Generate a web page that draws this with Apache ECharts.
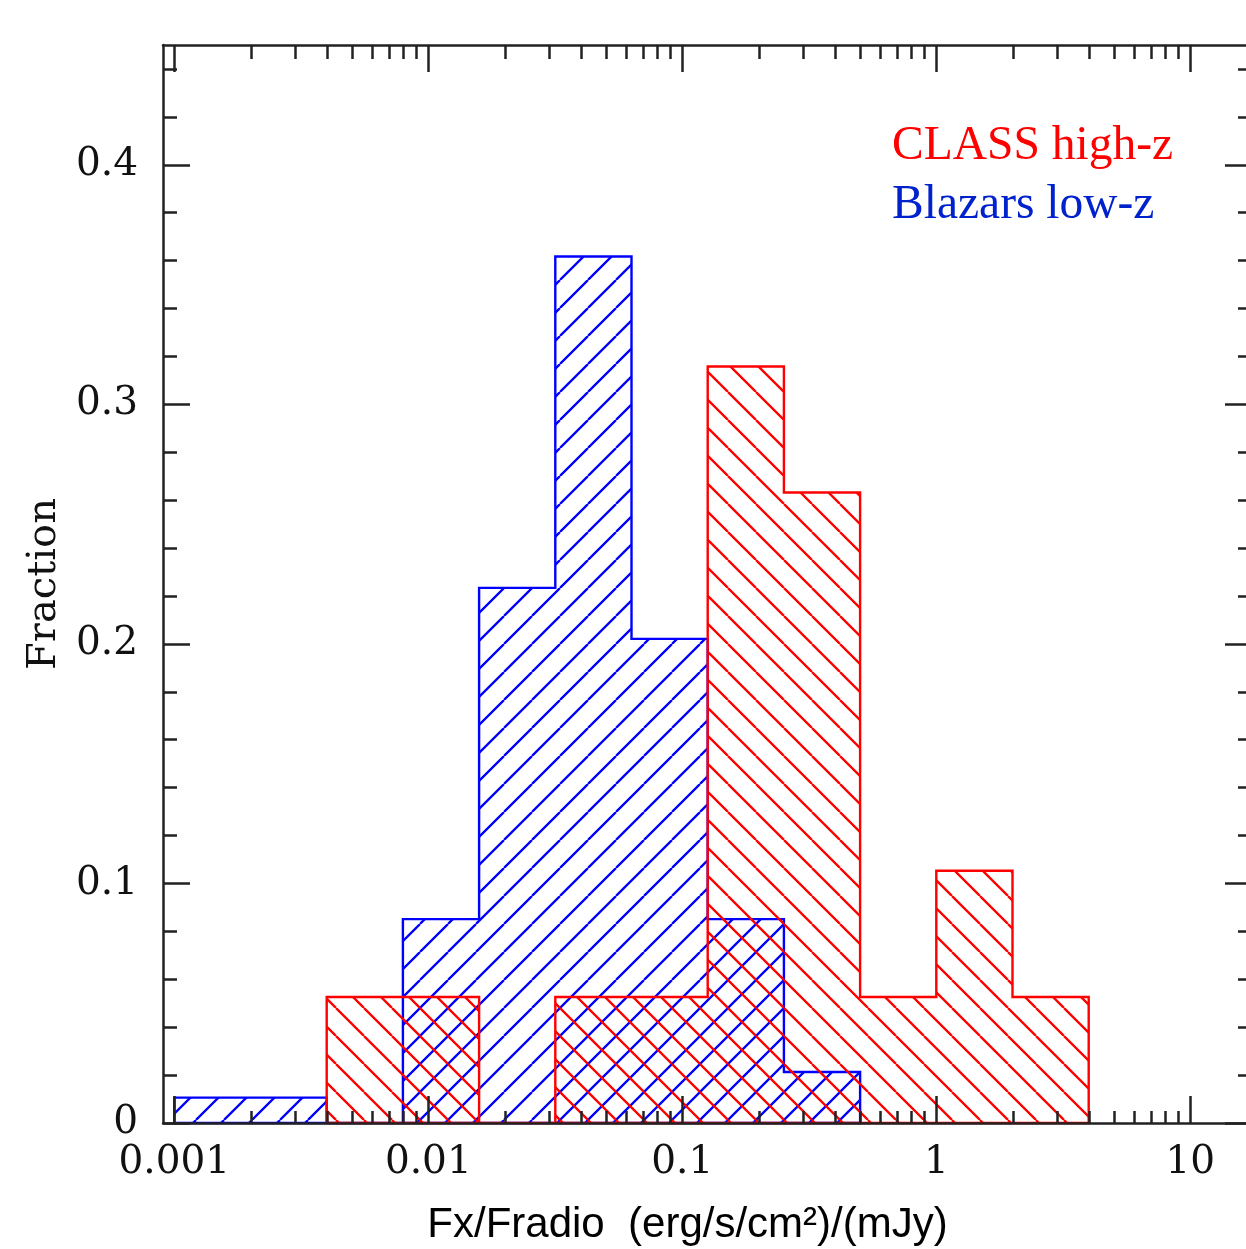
<!DOCTYPE html>
<html>
<head>
<meta charset="utf-8">
<script src="https://cdn.jsdelivr.net/npm/echarts@6/dist/echarts.min.js"></script>
<style>
  html, body { margin: 0; padding: 0; background: #fff; }
  #chart { width: 1246px; height: 1249px; }
</style>
</head>
<body>
<div id="chart"></div>
<script>
// bin edges in log10(Fx/Fradio)
const binEdges = [-3.0, -2.7, -2.4, -2.1, -1.8, -1.5, -1.2, -0.9, -0.6, -0.3, 0.0, 0.3, 0.6]
const blazarFrac = [0.0106, 0.0106, 0, 0.0851, 0.2234, 0.3617, 0.2021, 0.0851, 0.0213, 0, 0, 0]
const classFrac = [0, 0, 0.0526, 0.0526, 0, 0.0526, 0.0526, 0.3158, 0.2632, 0.0526, 0.1053, 0.0526]

const xMajorTicks = [0.001, 0.01, 0.1, 1, 10]
const xTickLabels = ['0.001', '0.01', '0.1', '1', '10']
const xMinorTicks = [0.002, 0.003, 0.004, 0.005, 0.006, 0.007, 0.008, 0.009,
    0.02, 0.03, 0.04, 0.05, 0.06, 0.07, 0.08, 0.09,
    0.2, 0.3, 0.4, 0.5, 0.6, 0.7, 0.8, 0.9,
    2, 3, 4, 5, 6, 7, 8, 9]
const yMajorTicks = [0, 0.1, 0.2, 0.3, 0.4]
const yTickLabels = ['0', '0.1', '0.2', '0.3', '0.4']
const yMinorTicks = [0.02, 0.04, 0.06, 0.08, 0.12, 0.14, 0.16, 0.18, 0.22, 0.24, 0.26, 0.28,
    0.32, 0.34, 0.36, 0.38, 0.42, 0.44]

const xMajorLog = xMajorTicks.map(Math.log10)
const xMinorLog = xMinorTicks.map(Math.log10)

function hatch(color, forward) {
    let s = 28
    let c = document.createElement('canvas')
    c.width = s
    c.height = s
    let ctx = c.getContext('2d')
    ctx.strokeStyle = color
    ctx.lineWidth = 2.3
    ctx.beginPath()
    for (let k = -1; k <= 1; k++) {
        if (forward) {
            ctx.moveTo(k * s, s)
            ctx.lineTo(k * s + s, 0)
        } else {
            ctx.moveTo(k * s, 0)
            ctx.lineTo(k * s + s, s)
        }
    }
    ctx.stroke()
    return c
}

function histSeries(name, vals, color, forward) {
    let pattern = { image: hatch(color, forward), repeat: 'repeat' }
    return {
        type: 'custom',
        name: name,
        data: [[binEdges[0], 0]],
        renderItem: function (params, api) {
            let first = vals.findIndex(v => v > 0)
            let last = vals.length - 1
            while (last > 0 && !(vals[last] > 0)) last--
            let pts = [api.coord([binEdges[first], 0])]
            for (let i = first; i <= last; i++) {
                pts.push(api.coord([binEdges[i], vals[i]]))
                pts.push(api.coord([binEdges[i + 1], vals[i]]))
            }
            pts.push(api.coord([binEdges[last + 1], 0]))
            return {
                type: 'polygon',
                shape: { points: pts },
                style: { fill: pattern, stroke: color, lineWidth: 2.4 }
            }
        }
    }
}

const axisColor = '#222'
const serif = '"DejaVu Serif", serif'

function xAxis(pos, ticks, len, labels, line) {
    return {
        type: 'value',
        position: pos,
        min: -3.0445,
        max: 1.2429,
        z: 10,
        splitLine: { show: false },
        axisLine: { show: line, onZero: false, lineStyle: { color: axisColor, width: 2.5 } },
        axisTick: { show: true, inside: true, length: len, customValues: ticks,
            lineStyle: { color: axisColor, width: 2.5 } },
        axisLabel: labels ? {
            show: true, customValues: xMajorLog, margin: 20,
            color: '#111', fontFamily: serif, fontSize: 39,
            formatter: v => xTickLabels[xMajorLog.findIndex(t => Math.abs(t - v) < 1e-6)]
        } : { show: false }
    }
}

function yAxis(pos, ticks, len, labels, line) {
    return {
        type: 'value',
        position: pos,
        min: 0,
        max: 0.45,
        z: 10,
        splitLine: { show: false },
        axisLine: { show: line, onZero: false, lineStyle: { color: axisColor, width: 2.5 } },
        axisTick: { show: true, inside: true, length: len, customValues: ticks,
            lineStyle: { color: axisColor, width: 2.5 } },
        axisLabel: labels ? {
            show: true, customValues: yMajorTicks, margin: 25,
            color: '#111', fontFamily: serif, fontSize: 39,
            formatter: v => yTickLabels[yMajorTicks.findIndex(t => Math.abs(t - v) < 1e-6)]
        } : { show: false }
    }
}

let myChart = echarts.init(document.getElementById('chart'))

let xAxes = [
    xAxis('bottom', xMajorLog, 27, true, true),
    xAxis('bottom', xMinorLog, 12, false, false),
    xAxis('top', xMajorLog, 27, false, true),
    xAxis('top', xMinorLog, 14, false, false)
]
xAxes[0].name = 'Fx/Fradio  (erg/s/cm²)/(mJy)'
xAxes[0].nameLocation = 'middle'
xAxes[0].nameGap = 81
xAxes[0].nameTextStyle = { fontFamily: 'Liberation Sans', fontSize: 42, color: '#000', padding: [0, 40, 0, 0] }

let yAxes = [
    yAxis('left', yMajorTicks, 27, true, true),
    yAxis('left', yMinorTicks, 14, false, false),
    yAxis('right', yMajorTicks, 27, false, true),
    yAxis('right', yMinorTicks, 14, false, false)
]
yAxes[0].name = 'Fraction'
yAxes[0].nameLocation = 'middle'
yAxes[0].nameGap = 95
yAxes[0].nameTextStyle = { fontFamily: serif, fontSize: 40, color: '#111' }

let option = {
    animation: false,
    grid: { left: 163, top: 45, width: 1089, height: 1078, outerBoundsMode: 'none' },
    legend: {
        orient: 'vertical',
        left: 882,
        top: 118,
        itemWidth: 0,
        itemHeight: 0,
        itemGap: 11,
        icon: 'rect',
        selectedMode: false,
        textStyle: { fontFamily: 'Liberation Serif', fontSize: 47.5, lineHeight: 47 },
        data: [
            { name: 'CLASS high-z', textStyle: { color: '#ff0000' } },
            { name: 'Blazars low-z', textStyle: { color: '#0022cc' } }
        ]
    },
    xAxis: xAxes,
    yAxis: yAxes,
    series: [
        histSeries('Blazars low-z', blazarFrac, '#0000ff', true),
        histSeries('CLASS high-z', classFrac, '#ff0000', false)
    ]
}

myChart.setOption(option)
</script>
</body>
</html>
